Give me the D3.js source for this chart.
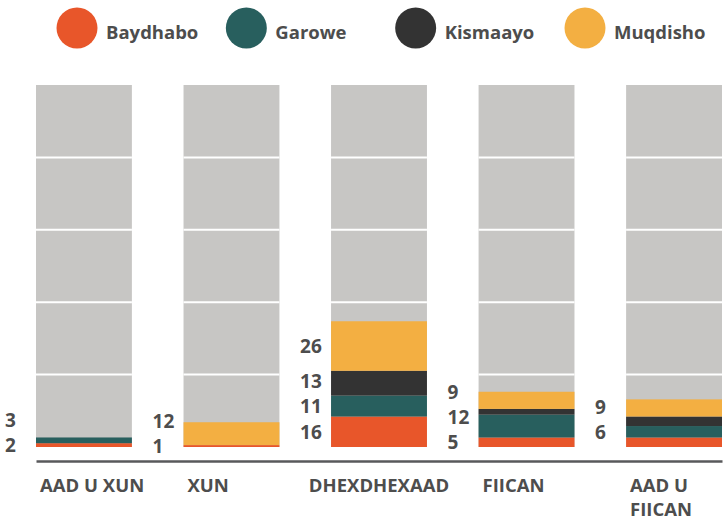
<!DOCTYPE html>
<html>
<head>
<meta charset="utf-8">
<script src="https://cdn.jsdelivr.net/npm/d3@7"></script>
<style>
  body { margin: 0; background: #fff; }
  text { font-family: "Open Sans", "DejaVu Sans", sans-serif; font-weight: 700; fill: #4d4d4d; }
</style>
</head>
<body>
<script>
// categories and cities
const categories = ["AAD U XUN", "XUN", "DHEXDHEXAAD", "FIICAN", "AAD U FIICAN"];
const cities = ["Baydhabo", "Garowe", "Kismaayo", "Muqdisho"];
const cityColors = ["#e8562a", "#285f5e", "#333333", "#f3af42"];

// values per city (one per category)
const baydhabo = [2, 1, 16, 5, 5];
const garowe   = [3, 0, 11, 12, 6];
const kismaayo = [0, 0, 13, 3, 5];
const muqdisho = [0, 12, 26, 9, 9];

// segments without a printed number in the picture
const hiddenLabels = [["FIICAN", "Kismaayo"], ["AAD U FIICAN", "Baydhabo"], ["AAD U FIICAN", "Kismaayo"]];

const yMax = 190; // top of the grey column
const gridSteps = 5;

const width = 723, height = 520;
const svg = d3.select("body").append("svg")
  .attr("width", width)
  .attr("height", height);

const x = d3.scaleBand()
  .domain(categories)
  .range([36, 722])
  .paddingInner(0.35);

const y = d3.scaleLinear()
  .domain([0, yMax])
  .range([447, 85]);

// build stacked rows
const series = [baydhabo, garowe, kismaayo, muqdisho];
const rows = categories.map((c, i) => {
  const r = { category: c };
  cities.forEach((city, j) => r[city] = series[j][i]);
  return r;
});
const stack = d3.stack().keys(cities);
const stacked = stack(rows);

// grey background columns
svg.append("g").selectAll("rect")
  .data(categories)
  .join("rect")
  .attr("x", d => x(d))
  .attr("y", y(yMax))
  .attr("width", x.bandwidth())
  .attr("height", y(0) - y(yMax))
  .attr("fill", "#c7c6c4");

// white lines across the grey columns
const gridVals = d3.range(1, gridSteps).map(k => yMax * k / gridSteps);
const grid = svg.append("g");
categories.forEach(c => {
  grid.selectAll(null)
    .data(gridVals)
    .join("line")
    .attr("x1", x(c))
    .attr("x2", x(c) + x.bandwidth())
    .attr("y1", d => y(d))
    .attr("y2", d => y(d))
    .attr("stroke", "#fff")
    .attr("stroke-width", 2);
});

// stacked segments
const color = d3.scaleOrdinal().domain(cities).range(cityColors);
svg.append("g").selectAll("g")
  .data(stacked)
  .join("g")
  .attr("fill", d => color(d.key))
  .selectAll("rect")
  .data(d => d.filter(s => s[1] > s[0]))
  .join("rect")
  .attr("x", d => x(d.data.category))
  .attr("y", d => y(d[1]))
  .attr("width", x.bandwidth())
  .attr("height", d => y(d[0]) - y(d[1]));

// value labels, pushed apart so they don't overlap
const isHidden = (c, city) => hiddenLabels.some(h => h[0] === c && h[1] === city);
const labels = [];
categories.forEach((c, i) => {
  let prev = Infinity;
  stacked.forEach(s => {
    const seg = s[i];
    const v = seg[1] - seg[0];
    if (v <= 0 || isHidden(c, s.key)) return;
    let cy = y((seg[0] + seg[1]) / 2);
    cy = Math.min(cy, prev - 25);
    prev = cy;
    labels.push({ category: c, value: v, cy: cy });
  });
});
svg.append("g").selectAll("text")
  .data(labels)
  .join("text")
  .attr("x", d => x(d.category) - 31)
  .attr("y", d => d.cy)
  .attr("dy", "0.36em")
  .attr("font-size", 19)
  .text(d => d.value);

// baseline axis
const axis = svg.append("g")
  .attr("transform", "translate(0,461)")
  .call(d3.axisBottom(x).tickSize(0).tickFormat(""));
axis.select(".domain").attr("stroke", "#58595b").attr("stroke-width", 2.5);

// category labels
const catG = svg.append("g");
categories.forEach(c => {
  const t = catG.append("text")
    .attr("y", 492)
    .attr("font-size", 18.5)
    .text(c);
  const w = t.node().getComputedTextLength();
  let tx = x(c) + 4;
  if (tx + w > width - 4) {
    // wrap onto two lines
    const words = c.split(" ");
    const last = words.pop();
    t.text(null);
    t.append("tspan").attr("x", tx).text(words.join(" "));
    t.append("tspan").attr("x", tx).attr("dy", 24).text(last);
  } else {
    if (w > x.bandwidth() * 1.25) tx = x(c) + x.bandwidth() / 2 - w / 2;
    t.attr("x", tx);
  }
});

// legend
const lx = d3.scalePoint().domain(cities).range([77, 585]);
const legend = svg.append("g").selectAll("g")
  .data(cities)
  .join("g")
  .attr("transform", d => `translate(${lx(d)},28)`);
legend.append("circle")
  .attr("r", 20.5)
  .attr("fill", d => color(d));
legend.append("text")
  .attr("x", 29)
  .attr("y", 11)
  .attr("font-size", 18.5)
  .text(d => d);
</script>
</body>
</html>
